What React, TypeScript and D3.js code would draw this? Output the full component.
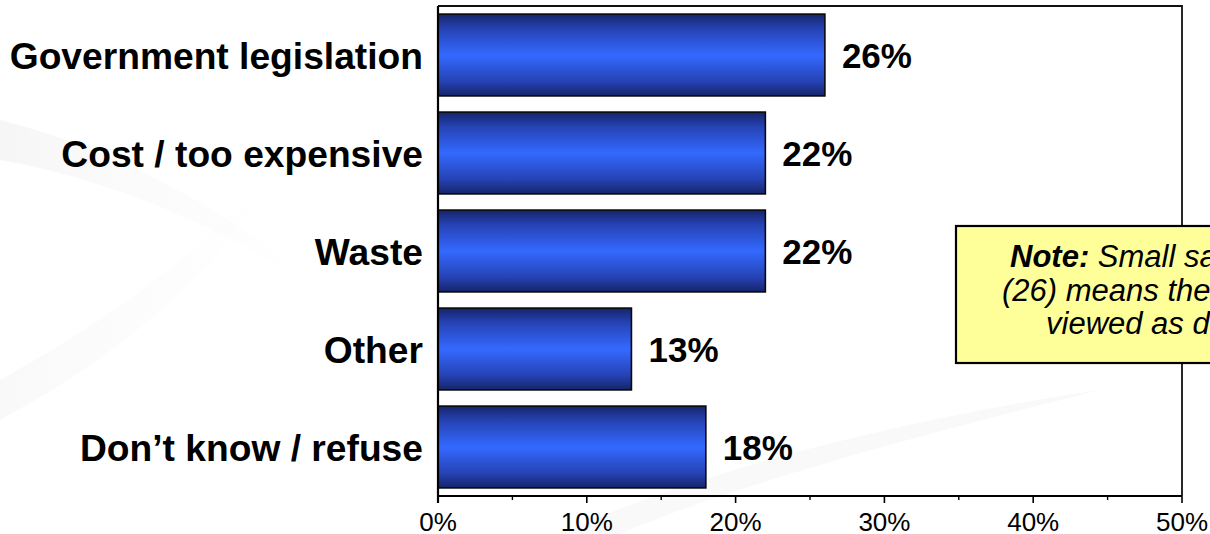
import React from "react";
import * as d3 from "d3";

const categories = [
  "Government legislation",
  "Cost / too expensive",
  "Waste",
  "Other",
  "Don\u2019t know / refuse",
];
const values = [26, 22, 22, 13, 18];
const xTicks = [0, 10, 20, 30, 40, 50];
const minorTicks = [5, 15, 25, 35, 45];
const noteLines = [
  { bold: "Note:", text: " Small sample size" },
  { bold: "", text: "(26) means these results should be" },
  { bold: "", text: "viewed as directional only" },
];

const W = 1210;
const H = 534;
const plot = { left: 438, right: 1182, top: 6, bottom: 496 };
const FONT = "'Liberation Sans', Arial, Helvetica, sans-serif";

export default function App() {
  const x = d3.scaleLinear().domain([0, 50]).range([plot.left, plot.right]);
  const y = d3
    .scaleBand<string>()
    .domain(categories)
    .range([plot.top, plot.bottom])
    .paddingInner(0.165)
    .paddingOuter(0.0825);

  const noteX = [1010, 1002, 1046];
  const noteY = [267, 301, 334];

  return (
    <svg
      width={W}
      height={H}
      style={{ position: "absolute", left: 0, top: 0, background: "#fff" }}
      fontFamily={FONT}
    >
      <defs>
        <linearGradient id="barGrad" x1="0" y1="0" x2="0" y2="1">
          <stop offset="0" stopColor="#15246a" />
          <stop offset="0.18" stopColor="#2643b5" />
          <stop offset="0.5" stopColor="#3469ff" />
          <stop offset="0.82" stopColor="#2643b5" />
          <stop offset="1" stopColor="#15246a" />
        </linearGradient>
        <linearGradient id="swoosh" x1="0" y1="0" x2="1" y2="0">
          <stop offset="0" stopColor="#efefef" stopOpacity="0.8" />
          <stop offset="1" stopColor="#f7f7f7" stopOpacity="0" />
        </linearGradient>
      </defs>

      {/* faint background swooshes */}
      <path
        d="M0,120 C120,150 250,220 330,300 C250,240 120,180 0,160 Z"
        fill="url(#swoosh)"
        opacity={0.7}
      />
      <path
        d="M0,380 C90,330 200,260 290,150 C220,280 110,360 0,420 Z"
        fill="url(#swoosh)"
        opacity={0.5}
      />
      <path
        d="M560,534 C700,470 900,420 1100,390 C900,440 720,490 620,534 Z"
        fill="#f3f3f3"
        opacity={0.5}
      />

      {/* plot border */}
      <path
        d={`M${plot.left},${plot.top} H${plot.right} V${plot.bottom}`}
        fill="none"
        stroke="#111"
        strokeWidth={1.8}
      />

      {/* bars */}
      {categories.map((c, i) => (
        <rect
          key={c}
          x={x(0)}
          y={y(c)}
          width={x(values[i]) - x(0)}
          height={y.bandwidth()}
          fill="url(#barGrad)"
          stroke="#0a0a0a"
          strokeWidth={1.6}
        />
      ))}

      {/* category labels */}
      {categories.map((c) => (
        <text
          key={c}
          x={423}
          y={(y(c) as number) + y.bandwidth() / 2}
          dy="0.38em"
          textAnchor="end"
          fontWeight="bold"
          fontSize={37.2}
          fill="#000"
        >
          {c}
        </text>
      ))}

      {/* value labels */}
      {categories.map((c, i) => (
        <text
          key={c}
          x={x(values[i]) + 17}
          y={(y(c) as number) + y.bandwidth() / 2}
          dy="0.36em"
          textAnchor="start"
          fontWeight="bold"
          fontSize={35}
          fill="#000"
        >
          {values[i]}%
        </text>
      ))}

      {/* axes */}
      <line
        x1={plot.left}
        x2={plot.left}
        y1={plot.top}
        y2={plot.bottom + 7}
        stroke="#000"
        strokeWidth={2.2}
      />
      <line
        x1={plot.left}
        x2={plot.right}
        y1={plot.bottom}
        y2={plot.bottom}
        stroke="#000"
        strokeWidth={2.2}
      />
      {xTicks.map((t) => (
        <g key={t}>
          <line
            x1={x(t)}
            x2={x(t)}
            y1={plot.bottom}
            y2={plot.bottom + 7}
            stroke="#000"
            strokeWidth={1.6}
          />
          <text
            x={x(t)}
            y={plot.bottom + 35}
            textAnchor="middle"
            fontSize={26}
            fill="#000"
          >
            {t}%
          </text>
        </g>
      ))}
      {minorTicks.map((t) => (
        <line
          key={t}
          x1={x(t)}
          x2={x(t)}
          y1={plot.bottom}
          y2={plot.bottom + 4}
          stroke="#000"
          strokeWidth={1.4}
        />
      ))}

      {/* note box */}
      <rect
        x={956}
        y={226}
        width={300}
        height={137}
        fill="#ffff99"
        stroke="#000"
        strokeWidth={2.2}
      />
      {noteLines.map((l, i) => (
        <text
          key={i}
          x={noteX[i]}
          y={noteY[i]}
          fontSize={31}
          fontStyle="italic"
          fill="#000"
        >
          {l.bold && <tspan fontWeight="bold">{l.bold}</tspan>}
          <tspan>{l.text}</tspan>
        </text>
      ))}
    </svg>
  );
}
